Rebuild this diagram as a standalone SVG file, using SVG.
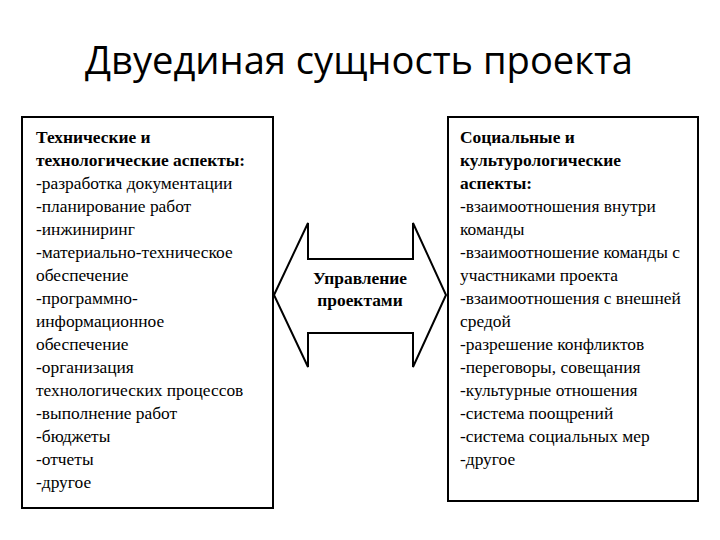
<svg xmlns="http://www.w3.org/2000/svg" width="720" height="540" viewBox="0 0 720 540">
<style>
.box{fill:#fff;stroke:#000;stroke-width:2}
.t{font-family:"Liberation Serif","Times New Roman",serif;font-size:17.4px;fill:#000}
.b{font-weight:bold}
.title{font-family:"Open Sans","Noto Sans",sans-serif;font-size:38px;fill:#000}
</style>
<rect width="720" height="540" fill="#fff"/>
<text class="title" x="359" y="74" text-anchor="middle" textLength="548" lengthAdjust="spacingAndGlyphs">Двуединая сущность проекта</text>
<g id="left">
<rect class="box" x="22" y="117" width="251" height="391"/>
<text class="t" x="36">
<tspan class="b" x="36" y="143">Технические и</tspan>
<tspan class="b" x="36" y="166">технологические аспекты:</tspan>
<tspan x="36" y="189">-разработка документации</tspan>
<tspan x="36" y="212">-планирование работ</tspan>
<tspan x="36" y="235">-инжиниринг</tspan>
<tspan x="36" y="258">-материально-техническое</tspan>
<tspan x="36" y="281">обеспечение</tspan>
<tspan x="36" y="304">-программно-</tspan>
<tspan x="36" y="327">информационное</tspan>
<tspan x="36" y="350">обеспечение</tspan>
<tspan x="36" y="373">-организация</tspan>
<tspan x="36" y="396">технологических процессов</tspan>
<tspan x="36" y="419">-выполнение работ</tspan>
<tspan x="36" y="442">-бюджеты</tspan>
<tspan x="36" y="465">-отчеты</tspan>
<tspan x="36" y="488">-другое</tspan>
</text>
</g>
<g id="right">
<rect class="box" x="448" y="117" width="250" height="384"/>
<text class="t" x="460">
<tspan class="b" x="460" y="143">Социальные и</tspan>
<tspan class="b" x="460" y="166">культурологические</tspan>
<tspan class="b" x="460" y="189">аспекты:</tspan>
<tspan x="460" y="212">-взаимоотношения внутри</tspan>
<tspan x="460" y="235">команды</tspan>
<tspan x="460" y="258">-взаимоотношение команды с</tspan>
<tspan x="460" y="281">участниками проекта</tspan>
<tspan x="460" y="304">-взаимоотношения с внешней</tspan>
<tspan x="460" y="327">средой</tspan>
<tspan x="460" y="350">-разрешение конфликтов</tspan>
<tspan x="460" y="373">-переговоры, совещания</tspan>
<tspan x="460" y="396">-культурные отношения</tspan>
<tspan x="460" y="419">-система поощрений</tspan>
<tspan x="460" y="442">-система социальных мер</tspan>
<tspan x="460" y="465">-другое</tspan>
</text>
</g>
<g id="connectors">
<g id="center">
<path d="M274,295 L308,223 L308,259 L413,259 L413,223 L446,295 L413,367 L413,333 L308,333 L308,367 Z" fill="#fff" stroke="#000" stroke-width="2" stroke-linejoin="miter"/>
<text class="t b" x="360" y="284" text-anchor="middle">Управление</text>
<text class="t b" x="360" y="306" text-anchor="middle">проектами</text>
</g>
</g>
</svg>
